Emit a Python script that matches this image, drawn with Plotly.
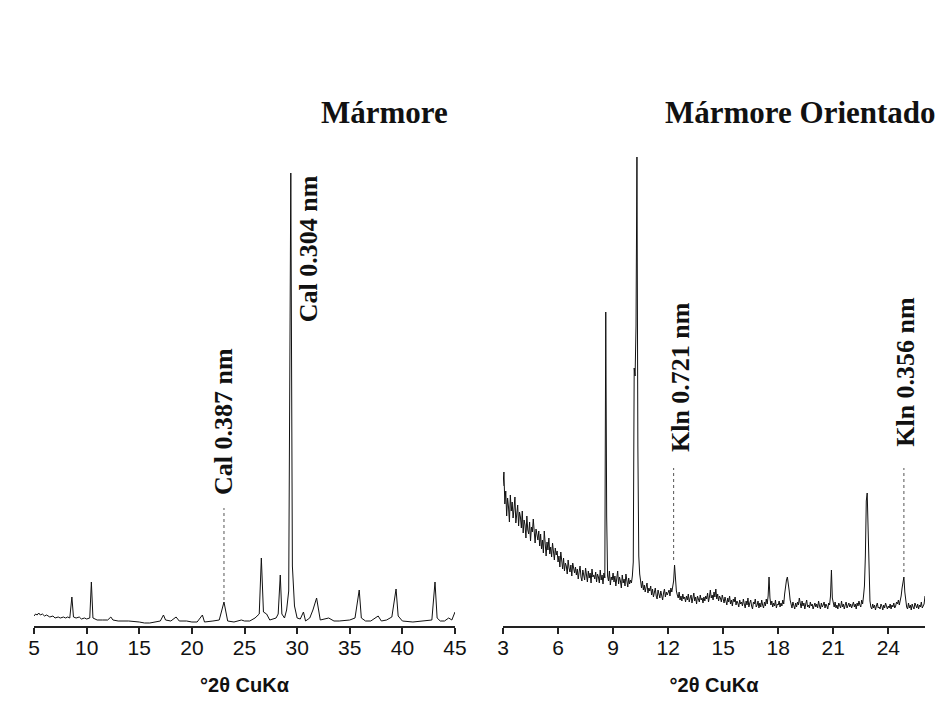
import plotly.graph_objects as go

# ---------------- Data (intensity in arbitrary counts) -------------
marmore_2theta = [5.0, 5.15, 5.3, 5.45, 5.6, 5.8, 6.0, 6.2, 6.5, 6.8, 7.0, 7.3, 7.5, 7.8, 8.0, 8.2,
                  8.4, 8.6, 8.75, 9.0, 9.3, 9.5, 9.8, 10.0, 10.3,
                  10.45, 10.6, 11.0, 11.5, 12.0, 12.3, 12.5, 13.0, 14.0, 15.0, 15.5, 16.0, 16.5,
                  17.0, 17.3, 17.5, 18.0, 18.5, 18.8, 19.5, 20.0, 20.5, 21.0, 21.2, 22.0, 22.6,
                  23.05, 23.4, 24.0, 24.7, 25.0, 25.5, 26.0, 26.4, 26.6, 26.8, 27.1, 27.4, 28.0,
                  28.2, 28.4, 28.55, 28.8, 29.0, 29.2, 29.4, 29.55, 29.75, 30.0, 30.3, 30.6, 30.8,
                  31.2, 31.5, 31.85, 32.0, 32.2, 33.0, 33.5, 34.0, 35.0, 35.5, 35.9, 36.1, 36.5,
                  37.0, 37.7, 38.0, 38.5, 39.0, 39.4, 39.6, 40.0, 41.0, 42.0, 42.8, 43.1, 43.3,
                  43.6, 44.0, 44.4, 44.7, 45.0]
marmore_int = [10, 12, 11, 13, 11, 12, 10, 11, 9, 10, 8, 9, 8, 9, 8, 9,
               8, 29, 9, 8, 9, 7, 8, 7, 8,
               44, 8, 6, 6, 6, 9, 6, 5, 5, 4, 3, 3, 4,
               5, 11, 6, 5, 9, 5, 5, 4, 4, 11, 4, 5, 6,
               24, 5, 4, 6, 5, 5, 8, 12, 68, 14, 12, 6, 8,
               12, 51, 12, 8, 16, 35, 453, 60, 20, 8, 7, 14, 5,
               8, 16, 28, 18, 6, 8, 5, 5, 6, 8, 36, 8, 5,
               5, 10, 5, 6, 9, 37, 10, 5, 4, 5, 6, 44, 8,
               5, 5, 8, 6, 14]

orientado_int = [
    140, 154, 122, 135, 110, 128, 119, 104, 131, 115, 124, 108, 117, 129, 103, 112, 121, 100, 114, 109,  # 3
    98, 115, 93, 106, 101, 88, 110, 96, 92, 104, 85, 99, 94, 107, 89, 83, 97, 91, 86, 95,               # 4
    80, 92, 77, 86, 73, 95, 81, 70, 84, 76, 88, 72, 79, 69, 83, 74, 66, 78, 71, 75,                     # 5
    64, 70, 59, 74, 62, 57, 68, 55, 63, 60, 52, 66, 58, 54, 61, 50, 63, 56, 53, 59,                     # 6
    51, 57, 47, 54, 60, 49, 45, 56, 52, 46, 58, 50, 44, 55, 48, 53, 43, 57, 49, 51,                     # 7
    47, 54, 44, 52, 49, 43, 56, 46, 51, 42, 53, 48, 314, 110, 50, 45, 55, 41, 49, 46,                   # 8
    53, 44, 50, 40, 47, 55, 42, 49, 45, 38, 51, 43, 47, 40, 52, 44, 39, 48, 42, 46,                     # 9
    43, 50, 64, 258, 250, 300, 469, 180, 70, 52, 44, 38, 45, 36, 41, 34, 39, 43, 33, 38,                # 10
    35, 40, 31, 37, 29, 34, 38, 30, 27, 36, 32, 28, 35, 30, 26, 33, 37, 29, 34, 31,                     # 11
    33, 36, 30, 38, 34, 41, 45, 61, 42, 35, 31, 28, 34, 26, 30, 25, 32, 27, 29, 24,                     # 12
    30, 26, 32, 24, 28, 31, 23, 27, 33, 25, 29, 22, 30, 27, 24, 31, 26, 28, 23, 29,                     # 13
    25, 30, 27, 33, 24, 29, 36, 28, 31, 26, 34, 29, 37, 27, 32, 25, 30, 28, 24, 31,                     # 14
    27, 23, 29, 25, 21, 28, 24, 30, 22, 26, 20, 27, 24, 29, 21, 25, 23, 19, 26, 22,                     # 15
    24, 20, 27, 22, 18, 25, 21, 28, 19, 23, 26, 20, 17, 24, 22, 27, 19, 21, 25, 18,                     # 16
    23, 19, 26, 21, 18, 24, 20, 27, 22, 30, 49, 28, 21, 25, 19, 23, 20, 26, 18, 22,                     # 17
    21, 25, 19, 23, 20, 26, 22, 32, 40, 46, 49, 44, 35, 26, 21, 18, 24, 20, 17, 23,                     # 18
    19, 24, 21, 28, 22, 18, 25, 20, 23, 17, 22, 26, 19, 21, 18, 24, 20, 22, 17, 21,                     # 19
    23, 19, 22, 18, 25, 20, 17, 23, 19, 21, 24, 18, 22, 20, 17, 23, 21, 30, 56, 28,                     # 20
    22, 19, 24, 18, 21, 17, 23, 20, 18, 25, 19, 22, 17, 21, 24, 18, 20, 23, 19, 22,                     # 21
    18, 21, 24, 19, 22, 17, 23, 20, 25, 21, 19, 26, 22, 30, 40, 70, 125, 133, 100, 45,                  # 22
    25, 19, 17, 22, 18, 21, 16, 20, 23, 18, 19, 17, 22, 20, 16, 21, 18, 23, 19, 17,                     # 23
    20, 18, 22, 17, 21, 19, 23, 18, 20, 24, 22, 26, 21, 25, 30, 38, 42, 49, 34, 24,                     # 24
    19, 17, 23, 18, 21, 16, 22, 19, 17, 23, 20, 18, 22, 17, 21, 19, 24, 18, 20, 22,                     # 25
    30,                                                                                                 # 26.0
]
orientado_2theta = [round(3.0 + 0.05 * i, 2) for i in range(len(orientado_int))]

tick_left = [5, 10, 15, 20, 25, 30, 35, 40, 45]
tick_right = [3, 6, 9, 12, 15, 18, 21, 24]

# labelled reflections: dotted guide position and extent
left_marks_x = [23.05]
left_marks_y0 = [26]
left_marks_y1 = [118]
right_marks_x = [12.3, 24.85]
right_marks_y0 = [66, 54]
right_marks_y1 = [158, 158]

left_labels = ["Cal 0.387 nm", "Cal 0.304 nm"]
left_label_x = [22.96, 31.05]
left_label_y = [204, 377]
right_labels = ["Kln 0.721 nm", "Kln 0.356 nm"]
right_label_x = [12.65, 24.9]
right_label_y = [249, 254]

titles = ["Mármore", "Mármore Orientado"]

# ---------------- Figure ---------------------------------------------------------
W, H = 949, 726
L, R, T, B = 34, 24, 156, 100
plot_w = W - L - R
left_end = (455 - L) / plot_w
right_start = (503 - L) / plot_w

fig = go.Figure()
fig.add_trace(go.Scatter(x=marmore_2theta, y=marmore_int, mode="lines",
                         line=dict(color="#111111", width=1), xaxis="x", yaxis="y",
                         showlegend=False, hoverinfo="skip"))
fig.add_trace(go.Scatter(x=orientado_2theta, y=orientado_int, mode="lines",
                         line=dict(color="#111111", width=1), xaxis="x2", yaxis="y2",
                         showlegend=False, hoverinfo="skip"))

for x, y0, y1 in zip(left_marks_x, left_marks_y0, left_marks_y1):
    fig.add_shape(type="line", xref="x", yref="y", x0=x, x1=x, y0=y0, y1=y1,
                  line=dict(color="#555555", width=1, dash="dot"))
for x, y0, y1 in zip(right_marks_x, right_marks_y0, right_marks_y1):
    fig.add_shape(type="line", xref="x2", yref="y2", x0=x, x1=x, y0=y0, y1=y1,
                  line=dict(color="#555555", width=1, dash="dot"))

lab_font = dict(family="Liberation Serif, Times New Roman, serif", size=26, color="#111111")
for t, x, y in zip(left_labels, left_label_x, left_label_y):
    fig.add_annotation(text="<b>%s</b>" % t, x=x, y=y, xref="x", yref="y", textangle=-90,
                       showarrow=False, font=lab_font, xanchor="center", yanchor="middle")
for t, x, y in zip(right_labels, right_label_x, right_label_y):
    fig.add_annotation(text="<b>%s</b>" % t, x=x, y=y, xref="x2", yref="y2", textangle=-90,
                       showarrow=False, font=lab_font, xanchor="center", yanchor="middle")

title_font = dict(family="Liberation Serif, Times New Roman, serif", size=31, color="#111111")
title_y = (626 - 112) / 470  # paper units above the plotting area
fig.add_annotation(text="<b>%s</b>" % titles[0], x=45, y=title_y, xref="x", yref="paper",
                   showarrow=False, font=title_font, xanchor="right", yanchor="middle", xshift=-5)
fig.add_annotation(text="<b>%s</b>" % titles[1], x=26, y=title_y, xref="x2", yref="paper",
                   showarrow=False, font=title_font, xanchor="right", yanchor="middle", xshift=13)

axis_common = dict(showline=True, linecolor="#222222", linewidth=1.6, ticks="outside",
                   ticklen=6, tickwidth=1.6, tickcolor="#222222", showgrid=False,
                   zeroline=False, ticklabelstandoff=-4,
                   tickfont=dict(family="Liberation Sans, Arial, sans-serif",
                                 size=21, color="#111111"),
                   title=dict(text="<b>°2θ CuKα</b>", standoff=20,
                              font=dict(family="Liberation Sans, Arial, sans-serif",
                                        size=20, color="#111111")))

fig.update_layout(
    width=W, height=H,
    margin=dict(l=L, r=R, t=T, b=B),
    paper_bgcolor="white", plot_bgcolor="white",
    xaxis=dict(domain=[0, left_end], range=[5, 45], tickvals=tick_left, anchor="y", **axis_common),
    yaxis=dict(domain=[0, 1], range=[0, 470], visible=False, anchor="x"),
    xaxis2=dict(domain=[right_start, 1], range=[3, 26], tickvals=tick_right, anchor="y2", **axis_common),
    yaxis2=dict(domain=[0, 1], range=[0, 470], visible=False, anchor="x2"),
)

fig.write_html("out.html")
